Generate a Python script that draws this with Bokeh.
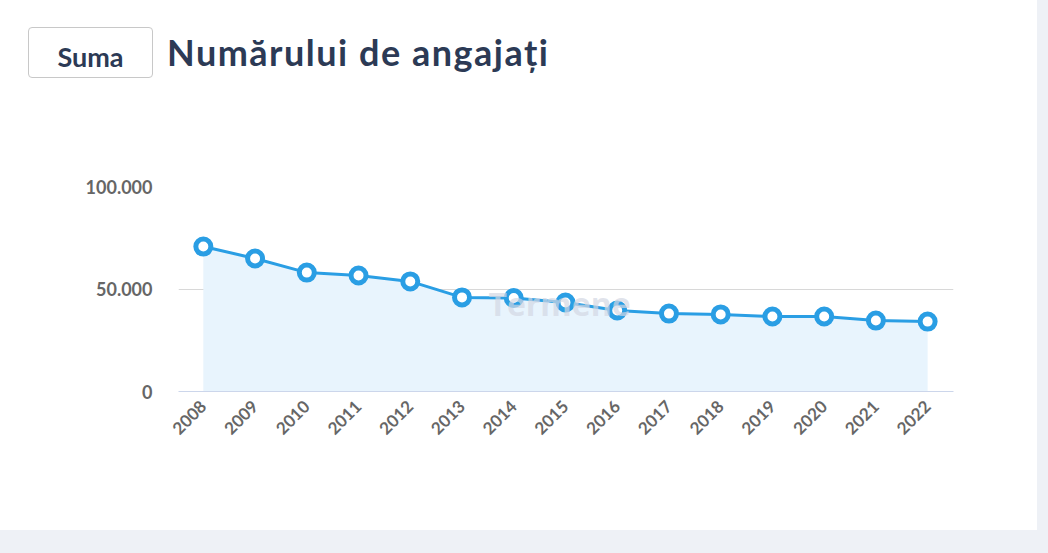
import math
from bokeh.plotting import figure
from bokeh.layouts import column
from bokeh.models import Label, FixedTicker, ColumnDataSource, Div
from bokeh.embed import file_html
from bokeh.resources import INLINE

years = [2008, 2009, 2010, 2011, 2012, 2013, 2014, 2015, 2016, 2017, 2018, 2019, 2020, 2021, 2022]
employees = [70700, 64900, 58000, 56600, 53700, 45900, 45600, 43400, 39500, 38000, 37600, 36600, 36600, 34600, 34100]
y_ticks = [0, 50000, 100000]
y_tick_labels = ["0", "50.000", "100.000"]
title_text = "Numărului de angajați"
button_text = "Suma"
watermark_text = "Termene"

BLUE = "#2a9ee4"
FONT = "Lato"
NAVY = "#2c3a55"
W = 1037
HEAD_H = 110

# ---- header (button + title) as HTML text ----
header_html = (
    f'<div style="position:relative;width:{W}px;height:{HEAD_H}px;background:white;">'
    '<div style="position:absolute;left:28px;top:27px;width:125px;height:51px;box-sizing:border-box;'
    'border:1.5px solid #c8c8c8;border-radius:4px;background:white;"></div>'
    f'<div style="position:absolute;left:28px;top:43px;width:125px;text-align:center;'
    f'font-family:Lato;font-weight:bold;font-size:27px;line-height:28px;color:{NAVY};">{button_text}</div>'
    f'<div style="position:absolute;left:167px;top:34px;white-space:nowrap;'
    f'font-family:Lato;font-weight:bold;font-size:36px;line-height:36px;letter-spacing:1.5px;color:{NAVY};">{title_text}</div>'
    '</div>'
)
head = Div(text=header_html, width=W, height=HEAD_H, margin=(0, 0, 0, 0))

# ---- chart ----
src = ColumnDataSource(dict(x=years, y=employees, y0=[0] * len(years)))

p = figure(width=W, height=530 - HEAD_H, output_backend="svg", toolbar_location=None,
           x_range=(2007.52, 2022.5), y_range=(0, 100000),
           min_border_left=178, min_border_right=84, min_border_top=186 - HEAD_H, min_border_bottom=139)
p.outline_line_color = None
p.background_fill_color = "white"
p.background_fill_alpha = 1.0
p.border_fill_color = "white"

p.varea(x="x", y1="y0", y2="y", source=src, fill_color="#e8f4fd", fill_alpha=1.0)

wm = Label(x=2013.51, y=42900, text=watermark_text, text_font="Open Sans", text_font_style="bold",
           text_font_size="32px", text_color="#d3d7e3", text_alpha=0.7,
           text_baseline="middle", text_align="left")
p.add_layout(wm)

p.line(x="x", y="y", source=src, line_color=BLUE, line_width=3)
p.scatter(x="x", y="y", source=src, size=15, fill_color="white", line_color=BLUE, line_width=5)

p.yaxis.ticker = FixedTicker(ticks=y_ticks)
p.yaxis.major_label_overrides = {t: l for t, l in zip(y_ticks, y_tick_labels)}
p.yaxis.axis_line_color = None
p.yaxis.major_tick_line_color = None
p.yaxis.minor_tick_line_color = None
p.yaxis.major_label_text_font = FONT
p.yaxis.major_label_text_font_style = "bold"
p.yaxis.major_label_text_font_size = "18px"
p.yaxis.major_label_text_color = "#666666"
p.yaxis.major_label_standoff = 20

p.xaxis.ticker = FixedTicker(ticks=years)
p.xaxis.major_label_overrides = {y: str(y) for y in years}
p.xaxis.axis_line_color = "#ccd6eb"
p.xaxis.major_tick_line_color = None
p.xaxis.minor_tick_line_color = None
p.xaxis.major_label_orientation = math.pi / 4
p.xaxis.major_label_text_font = FONT
p.xaxis.major_label_text_font_style = "bold"
p.xaxis.major_label_text_font_size = "17px"
p.xaxis.major_label_text_color = "#666666"
p.xaxis.major_label_standoff = 6

p.xgrid.grid_line_color = None
p.ygrid.ticker = FixedTicker(ticks=y_ticks)
p.ygrid.grid_line_color = "#d8d8d8"
p.ygrid.grid_line_width = 1

layout = column(head, p, spacing=0, styles={"background-color": "white"})

html = file_html(layout, INLINE)
html = html.replace("<head>", "<head><style>body{background:#eef1f6;}</style>", 1)
open("out.html", "w").write(html)
